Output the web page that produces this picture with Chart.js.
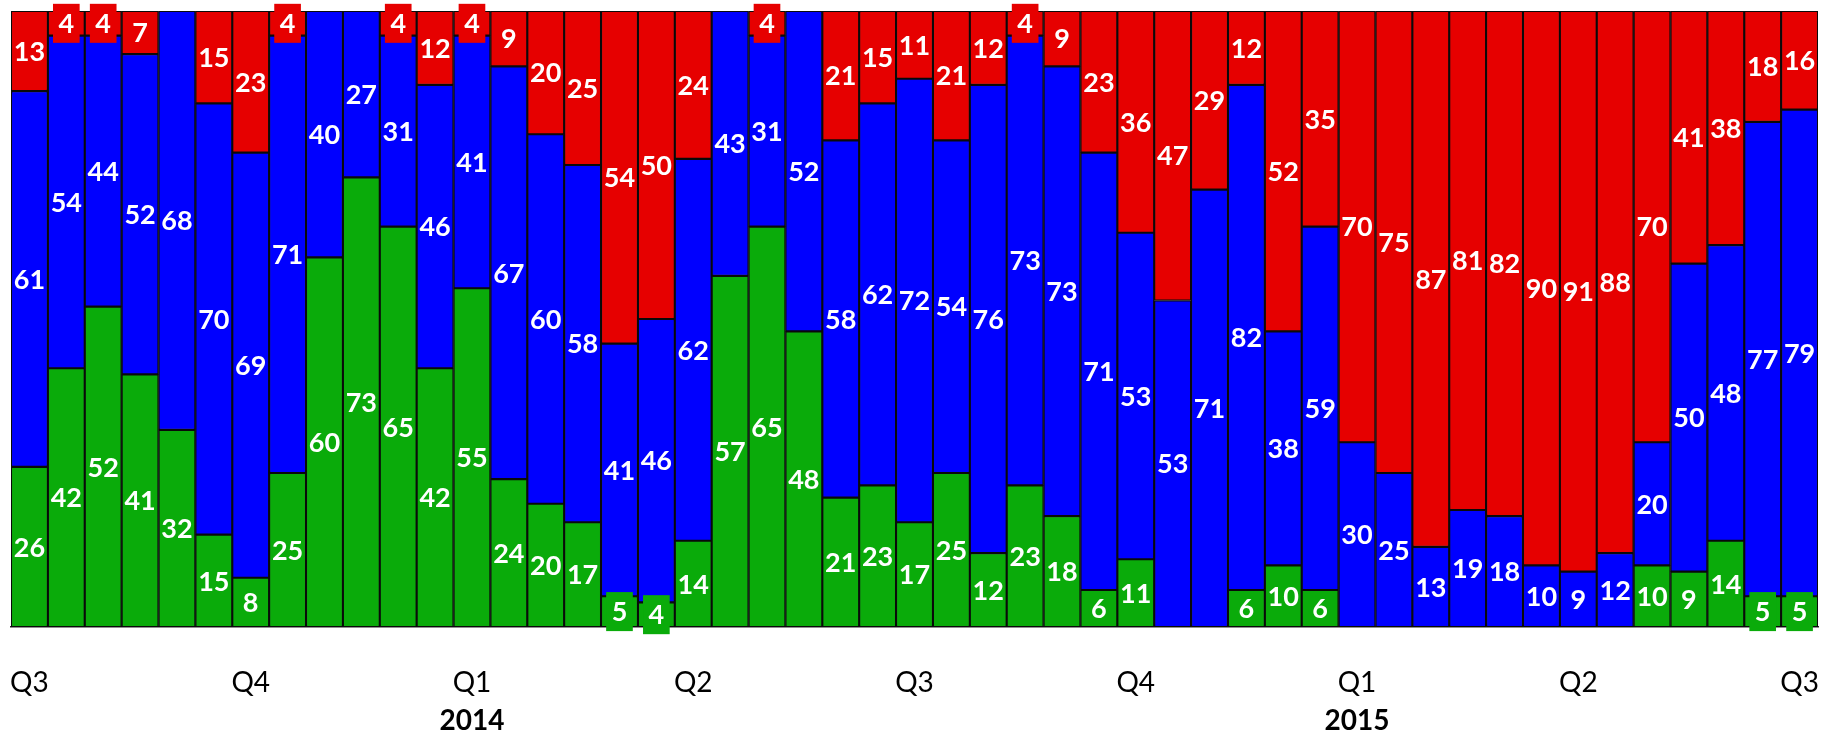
<!DOCTYPE html>
<html>
<head>
<meta charset="utf-8">
<script src="https://cdn.jsdelivr.net/npm/chart.js@4/dist/chart.umd.min.js"></script>
<style>
    body { margin: 0; background: #ffffff; }
    #wrap { width: 1827px; height: 734px; }
</style>
</head>
<body>
<div id="wrap"><canvas id="shares" width="1827" height="734"></canvas></div>
<script>
// one bar per week, quarters marked every 6 bars
const greenShare = [26, 42, 52, 41, 32, 15, 8, 25, 60, 73, 65, 42, 55, 24, 20, 17, 5, 4, 14, 57, 65, 48, 21, 23, 17, 25, 12, 23, 18, 6, 11, 0, 0, 6, 10, 6, 0, 0, 0, 0, 0, 0, 0, 0, 10, 9, 14, 5, 5];
const blueShare = [61, 54, 44, 52, 68, 70, 69, 71, 40, 27, 31, 46, 41, 67, 60, 58, 41, 46, 62, 43, 31, 52, 58, 62, 72, 54, 76, 73, 73, 71, 53, 53, 71, 82, 38, 59, 30, 25, 13, 19, 18, 10, 9, 12, 20, 50, 48, 77, 79];
const redShare = [13, 4, 4, 7, 0, 15, 23, 4, 0, 0, 4, 12, 4, 9, 20, 25, 54, 50, 24, 0, 4, 0, 21, 15, 11, 21, 12, 4, 9, 23, 36, 47, 29, 12, 52, 35, 70, 75, 87, 81, 82, 90, 91, 88, 70, 41, 38, 18, 16];

const quarterTicks = ["Q3", "Q4", "Q1", "Q2", "Q3", "Q4", "Q1", "Q2", "Q3"];
const quarterEvery = 6;
const yearTicks = ["2014", "2015"];
const yearTickIndex = [12, 36];

const categories = greenShare.map((_, i) => i);

const GREEN = "#0aab0a";
const BLUE = "#0000ff";
const RED = "#e60000";

// white value in the middle of every segment, small ones get a box in the segment colour
const segmentLabels = {
    id: "segmentLabels",
    afterDatasetsDraw(chart) {
        const ctx = chart.ctx;
        ctx.save();
        ctx.font = "bold 27px Lato";
        ctx.textAlign = "center";
        ctx.textBaseline = "middle";
        chart.data.datasets.forEach((ds, di) => {
            const meta = chart.getDatasetMeta(di);
            meta.data.forEach((bar, i) => {
                const v = ds.data[i];
                if (!v) return;
                const cy = (bar.y + bar.base) / 2;
                const text = String(v);
                if (v <= 5) {
                    const w = ctx.measureText(text).width + 11;
                    ctx.fillStyle = ds.backgroundColor;
                    ctx.fillRect(bar.x - w / 2, cy - 19.5, w, 39);
                }
                ctx.fillStyle = "#ffffff";
                ctx.fillText(text, bar.x, cy + 1);
            });
        });
        ctx.restore();
    },
};

function makeSet(label, data, color) {
    return {
        label: label,
        data: data,
        backgroundColor: color,
        borderColor: "#0a0a0a",
        borderWidth: 1.4,
        borderSkipped: false,
        barPercentage: 1,
        categoryPercentage: 1,
        xAxisID: "x",
    };
}

new Chart(document.getElementById("shares"), {
    type: "bar",
    data: {
        labels: categories,
        datasets: [
            makeSet("green", greenShare, GREEN),
            makeSet("blue", blueShare, BLUE),
            makeSet("red", redShare, RED),
        ],
    },
    options: {
        responsive: false,
        animation: false,
        layout: { padding: { left: 11, right: 9, top: 11, bottom: 0 } },
        plugins: {
            legend: { display: false },
            tooltip: { enabled: false },
        },
        scales: {
            x: {
                stacked: true,
                weight: 0,
                // the gap above the labels comes from the (hidden) tick length
                grid: { display: false, drawTicks: true, tickLength: 39 },
                border: { display: true, color: "#222222", width: 1.5 },
                afterFit: (scale) => {
                    scale.height = 73;
                    scale.paddingLeft = 0;
                    scale.paddingRight = 0;
                },
                ticks: {
                    autoSkip: false,
                    maxRotation: 0,
                    padding: 0,
                    color: "#000000",
                    font: { family: "Lato", size: 28, lineHeight: 1.2 },
                    callback: (val, index) =>
                        index % quarterEvery === 0 ? quarterTicks[index / quarterEvery] : "",
                },
            },
            years: {
                type: "category",
                position: "bottom",
                weight: 1,
                grid: { display: false, drawTicks: true, tickLength: 7 },
                border: { display: false },
                afterFit: (scale) => {
                    scale.height = 34;
                    scale.paddingLeft = 0;
                    scale.paddingRight = 0;
                },
                ticks: {
                    autoSkip: false,
                    maxRotation: 0,
                    padding: 0,
                    color: "#000000",
                    font: { family: "Lato", size: 28, weight: "bold", lineHeight: 1 },
                    callback: (val, index) => {
                        const k = yearTickIndex.indexOf(index);
                        return k >= 0 ? yearTicks[k] : "";
                    },
                },
            },
            y: {
                stacked: true,
                display: false,
                min: 0,
                max: 100,
            },
        },
    },
    plugins: [segmentLabels],
});
</script>
</body>
</html>
